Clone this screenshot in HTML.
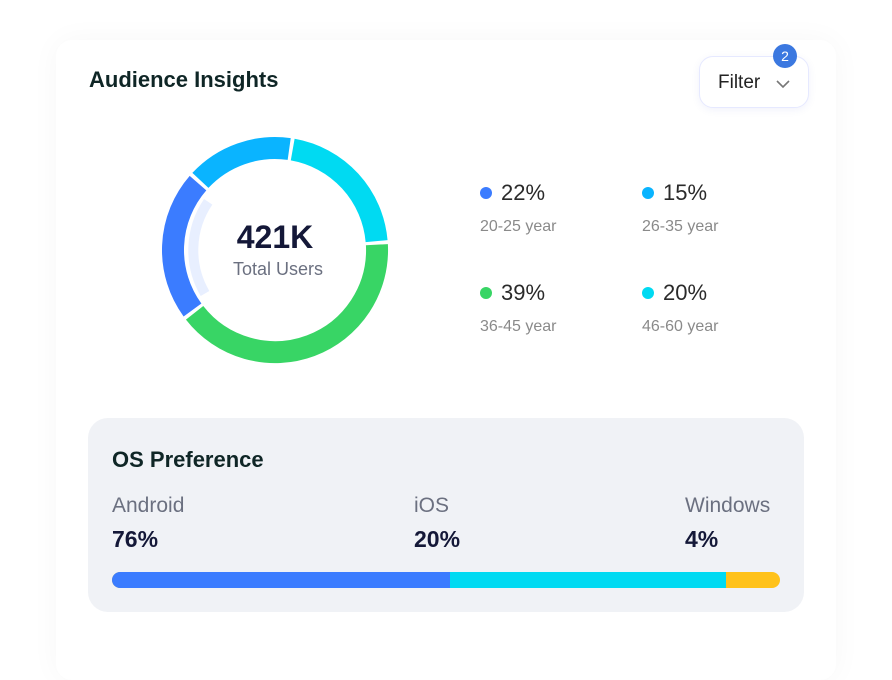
<!DOCTYPE html>
<html><head><meta charset="utf-8"><style>
body{margin:0;width:892px;height:632px;background:#fff;font-family:"Liberation Sans",sans-serif;position:relative;overflow:hidden}
.card{position:absolute;left:56px;top:40px;width:780px;height:640px;background:#fff;box-shadow:0 0 30px rgba(0,0,0,0.035);border-radius:16px}
.abs{position:absolute;white-space:nowrap}
.title{left:89px;top:67px;font-size:22px;font-weight:bold;color:#0f2626}
.filter{left:699px;top:56px;width:110px;height:52px;border:1.5px solid #e6e9ff;border-radius:14px;background:#fff;box-shadow:0 2px 8px rgba(80,90,200,0.08);box-sizing:border-box}
.filter span{position:absolute;left:18px;top:15px;font-size:19px;color:#222}
.badge{left:773px;top:44px;width:24px;height:24px;border-radius:50%;background:#3b78e0;color:#fff;font-size:14px;text-align:center;line-height:24px}
.dot{width:12px;height:12px;border-radius:50%}
.pct{font-size:22px;color:#2a2a2a}
.lab{font-size:16px;color:#8a8a8a}
.os{left:88px;top:418px;width:716px;height:194px;background:#f0f2f6;border-radius:20px}
</style></head><body>
<div class="card"></div>
<div class="abs title">Audience Insights</div>
<div class="abs filter"><span>Filter</span>
<svg style="position:absolute;left:76px;top:22px" width="14" height="10"><path d="M1 2 L7 8 L13 2" stroke="#777" stroke-width="1.6" fill="none"/></svg></div>
<div class="abs badge">2</div>
<svg class="abs" style="left:0;top:0" width="892" height="632">
<g fill="none" stroke-width="22">
<path d="M205.0 293.5 A86 86 0 0 1 208.2 201.8" stroke="#e8efff" stroke-width="10"/>
<path d="M200.4 180.4 A102 102 0 0 1 289.2 149.0" stroke="#0ab4ff"/>
<path d="M292.7 149.6 A102 102 0 0 1 376.6 241.1" stroke="#00daf2"/>
<path d="M376.9 244.7 A102 102 0 0 1 194.6 312.8" stroke="#38d565"/>
<path d="M192.5 310.0 A102 102 0 0 1 198.0 183.1" stroke="#3b7cff"/>
</g>
<text x="275" y="248" text-anchor="middle" font-family="Liberation Sans" font-size="32" font-weight="bold" fill="#141838">421K</text>
<text x="278" y="275" text-anchor="middle" font-family="Liberation Sans" font-size="18" fill="#6b7080">Total Users</text>
</svg>
<div class="abs dot" style="left:480px;top:187px;background:#3b7cff"></div>
<div class="abs pct" style="left:501px;top:180px">22%</div>
<div class="abs lab" style="left:480px;top:218px">20-25 year</div>
<div class="abs dot" style="left:642px;top:187px;background:#0ab4ff"></div>
<div class="abs pct" style="left:663px;top:180px">15%</div>
<div class="abs lab" style="left:642px;top:218px">26-35 year</div>
<div class="abs dot" style="left:480px;top:287px;background:#38d565"></div>
<div class="abs pct" style="left:501px;top:280px">39%</div>
<div class="abs lab" style="left:480px;top:318px">36-45 year</div>
<div class="abs dot" style="left:642px;top:287px;background:#00daf2"></div>
<div class="abs pct" style="left:663px;top:280px">20%</div>
<div class="abs lab" style="left:642px;top:318px">46-60 year</div>
<div class="abs os"></div>
<div class="abs" style="left:112px;top:447px;font-size:22px;font-weight:bold;color:#0f2626">OS Preference</div>
<div class="abs" style="left:112px;top:494px;font-size:21px;color:#6b7080">Android</div>
<div class="abs" style="left:414px;top:494px;font-size:21px;color:#6b7080">iOS</div>
<div class="abs" style="left:685px;top:494px;font-size:21px;color:#6b7080">Windows</div>
<div class="abs" style="left:112px;top:526px;font-size:23px;font-weight:bold;color:#141838">76%</div>
<div class="abs" style="left:414px;top:526px;font-size:23px;font-weight:bold;color:#141838">20%</div>
<div class="abs" style="left:685px;top:526px;font-size:23px;font-weight:bold;color:#141838">4%</div>
<div class="abs" style="left:112px;top:572px;width:668px;height:16px;border-radius:8px;overflow:hidden;background:#ffc21a">
<div style="position:absolute;left:0;top:0;width:338px;height:16px;background:#3b7cff"></div>
<div style="position:absolute;left:338px;top:0;width:276px;height:16px;background:#00daf2"></div>
</div>
</body></html>
